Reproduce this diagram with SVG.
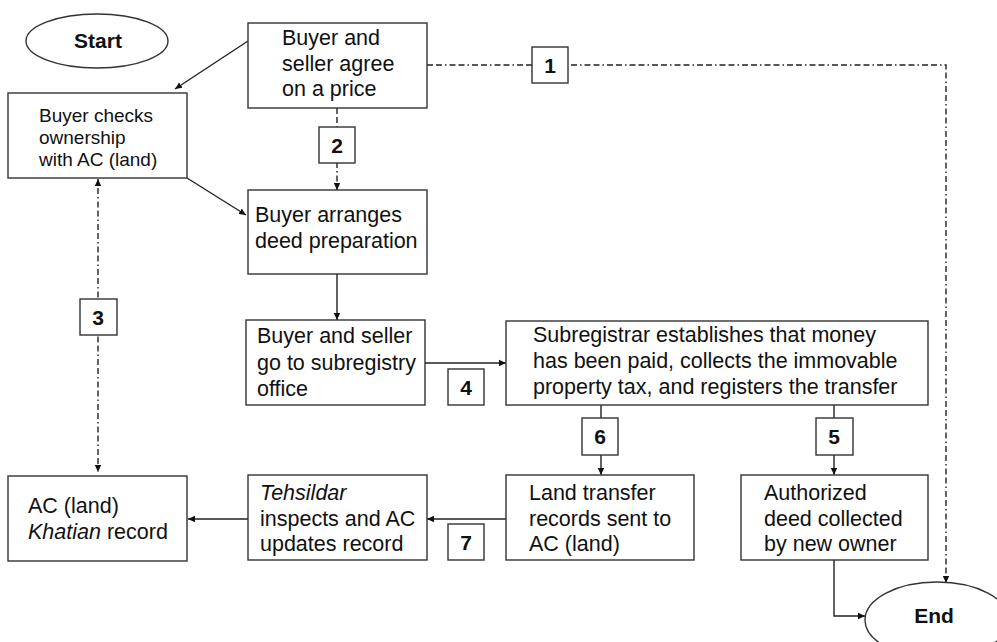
<svg xmlns="http://www.w3.org/2000/svg" width="997" height="642" viewBox="0 0 997 642">
<style>
.box{fill:#fff;stroke:#333;stroke-width:1.4}
.t{font-family:"Liberation Sans",Arial,sans-serif;font-size:21.5px;fill:#111}
.ts{font-family:"Liberation Sans",Arial,sans-serif;font-size:19px;fill:#111}
.b{font-family:"Liberation Sans",Arial,sans-serif;font-size:21px;font-weight:bold;fill:#111;text-anchor:middle}
.ln{fill:none;stroke:#222;stroke-width:1.4}
.dd{fill:none;stroke:#222;stroke-width:1.4;stroke-dasharray:6 3 6 3 1.5 3}
</style>
<defs>
<marker id="ah" markerWidth="8" markerHeight="8" refX="7" refY="4" orient="auto" markerUnits="userSpaceOnUse">
<path d="M0,0.8 L7,4 L0,7.2 z" fill="#111"/>
</marker>
<marker id="ahs" markerWidth="8" markerHeight="8" refX="7" refY="4" orient="auto-start-reverse" markerUnits="userSpaceOnUse">
<path d="M0,0.8 L7,4 L0,7.2 z" fill="#111"/>
</marker>
</defs>
<g id="connectors">
<line class="ln" x1="248" y1="41" x2="175" y2="89" marker-end="url(#ah)"/>
<line class="dd" x1="337" y1="108" x2="337" y2="190" marker-end="url(#ah)"/>
<line class="ln" x1="187" y1="178" x2="246" y2="215" marker-end="url(#ah)"/>
<line class="ln" x1="337" y1="274" x2="337" y2="320" marker-end="url(#ah)"/>
<line class="ln" x1="425" y1="363" x2="506" y2="363" marker-end="url(#ah)"/>
<line class="ln" x1="601" y1="405" x2="601" y2="475" marker-end="url(#ah)"/>
<line class="ln" x1="834" y1="405" x2="834" y2="475" marker-end="url(#ah)"/>
<polyline class="ln" points="834,560 834,616 865,616" marker-end="url(#ah)"/>
<line class="ln" x1="506" y1="519" x2="427" y2="519" marker-end="url(#ah)"/>
<line class="ln" x1="248" y1="519" x2="188" y2="519" marker-end="url(#ah)"/>
<polyline class="dd" points="427,65 946,65 946,583" marker-end="url(#ah)"/>
<line class="dd" x1="98" y1="179" x2="98" y2="472" marker-start="url(#ahs)" marker-end="url(#ah)"/>
</g>
<g id="start">
<ellipse cx="97" cy="41" rx="71" ry="27" class="box"/>
<text class="b" x="98" y="48">Start</text>
</g>
<g id="agree">
<rect class="box" x="248" y="23" width="179" height="85"/>
<text class="t"><tspan x="282" y="45">Buyer and</tspan><tspan x="282" y="71">seller agree</tspan><tspan x="282" y="96">on a price</tspan></text>
</g>
<g id="checks">
<rect class="box" x="8" y="93" width="179" height="85"/>
<text class="ts"><tspan x="39" y="122">Buyer checks</tspan><tspan x="39" y="144">ownership</tspan><tspan x="39" y="166">with AC (land)</tspan></text>
</g>
<g id="arranges">
<rect class="box" x="248" y="190" width="179" height="84"/>
<text class="t"><tspan x="255" y="222">Buyer arranges</tspan><tspan x="255" y="248">deed preparation</tspan></text>
</g>
<g id="subregistry">
<rect class="box" x="246" y="320" width="179" height="85"/>
<text class="t"><tspan x="257" y="343">Buyer and seller</tspan><tspan x="257" y="370">go to subregistry</tspan><tspan x="257" y="396">office</tspan></text>
</g>
<g id="subregistrar">
<rect class="box" x="506" y="321" width="422" height="84"/>
<text class="t"><tspan x="533" y="342">Subregistrar establishes that money</tspan><tspan x="533" y="368">has been paid, collects the immovable</tspan><tspan x="533" y="394">property tax, and registers the transfer</tspan></text>
</g>
<g id="landtransfer">
<rect class="box" x="506" y="475" width="188" height="85"/>
<text class="t"><tspan x="529" y="500">Land transfer</tspan><tspan x="529" y="526">records sent to</tspan><tspan x="529" y="551">AC (land)</tspan></text>
</g>
<g id="authorized">
<rect class="box" x="741" y="475" width="187" height="85"/>
<text class="t"><tspan x="764" y="500">Authorized</tspan><tspan x="764" y="526">deed collected</tspan><tspan x="764" y="551">by new owner</tspan></text>
</g>
<g id="tehsildar">
<rect class="box" x="248" y="475" width="179" height="85"/>
<text class="t"><tspan x="260" y="500" font-style="italic">Tehsildar</tspan><tspan x="260" y="526">inspects and AC</tspan><tspan x="260" y="551">updates record</tspan></text>
</g>
<g id="khatian">
<rect class="box" x="8" y="476" width="179" height="85"/>
<text class="t"><tspan x="28" y="513">AC (land)</tspan><tspan x="28" y="539"><tspan font-style="italic">Khatian</tspan> record</tspan></text>
</g>
<g id="end">
<ellipse cx="937" cy="620" rx="72" ry="38" class="box"/>
<text class="b" x="934" y="623">End</text>
</g>
<g id="labels">
<rect class="box" x="532" y="47" width="36" height="36"/><text class="b" x="550" y="73">1</text>
<rect class="box" x="319" y="127" width="36" height="36"/><text class="b" x="337" y="153">2</text>
<rect class="box" x="80" y="299" width="37" height="36"/><text class="b" x="98" y="325">3</text>
<rect class="box" x="448" y="369" width="36" height="36"/><text class="b" x="466" y="395">4</text>
<rect class="box" x="816" y="418" width="37" height="37"/><text class="b" x="834" y="444">5</text>
<rect class="box" x="582" y="418" width="36" height="37"/><text class="b" x="600" y="444">6</text>
<rect class="box" x="448" y="524" width="36" height="36"/><text class="b" x="466" y="550">7</text>
</g>
</svg>
